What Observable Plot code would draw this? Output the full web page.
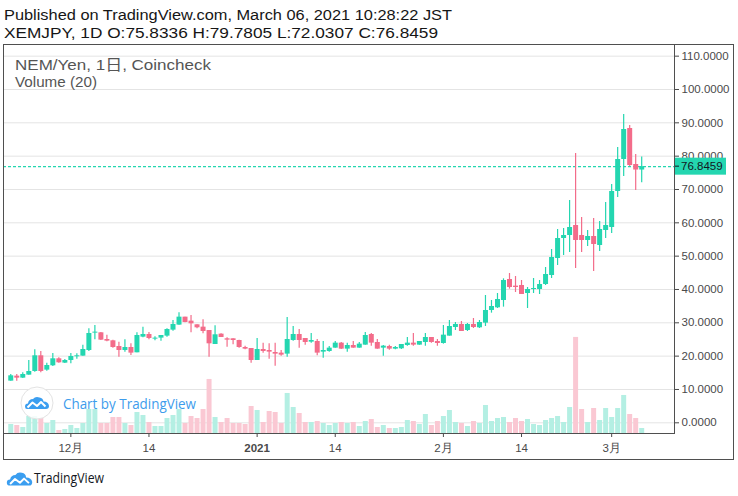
<!DOCTYPE html>
<html><head><meta charset="utf-8">
<script src="https://cdn.jsdelivr.net/npm/d3@7"></script>
<script src="https://cdn.jsdelivr.net/npm/@observablehq/plot@0.6"></script>
<style>
body{margin:0;background:#fff;}
#wrap{position:relative;width:738px;height:496px;overflow:hidden;}
#chart{position:absolute;left:0;top:0;}
#overlay{position:absolute;left:0;top:0;}
</style></head>
<body>
<div id="wrap">
<div id="chart"></div>
<svg id="overlay" width="738" height="496" viewBox="0 0 738 496">
  <g font-family="Liberation Sans, Arial, Noto Sans CJK JP, sans-serif" fill="#161616" font-size="15.5">
    <text x="4" y="20" textLength="448" lengthAdjust="spacingAndGlyphs">Published on TradingView.com, March 06, 2021 10:28:22 JST</text>
    <text x="4" y="37.5" textLength="434" lengthAdjust="spacingAndGlyphs">XEMJPY, 1D O:75.8336 H:79.7805 L:72.0307 C:76.8459</text>
  </g>
  <g font-family="Liberation Sans, Arial, Noto Sans CJK JP, sans-serif" fill="#555" font-size="15">
    <text x="15" y="69.5" textLength="196" lengthAdjust="spacingAndGlyphs">NEM/Yen, 1日, Coincheck</text>
    <text x="15" y="86.5" textLength="82" lengthAdjust="spacingAndGlyphs">Volume (20)</text>
  </g>
  <g transform="translate(20,386)">
    <circle cx="17" cy="17" r="16" fill="#fff" fill-opacity="0.85" stroke="#e3e3e3" stroke-width="1"/>
    <path d="M7 23 Q5 23 5 20.5 Q5 17.5 8 17.5 Q8.5 13 13 13 Q15.5 10 19.5 11.5 Q23 12 23.5 15.5 Q28.5 15.5 29 20 Q29 23 26 23 Z" fill="#3b9ef0"/>
    <path d="M7.5 21.5 L12.5 16.5 L17 20 L21 16 L25.5 20.5" fill="none" stroke="#fff" stroke-width="2" stroke-linejoin="round"/>
  </g>
  <text x="63" y="408.5" font-family="Open Sans, Noto Sans, sans-serif" font-size="15" fill="#3d9cec" textLength="133" lengthAdjust="spacingAndGlyphs">Chart by TradingView</text>
  <g transform="translate(6,470) scale(0.82)">
    <path d="M5 19 Q1 19 1 15.5 Q1 11.5 5 11.5 Q6 6 11.5 6 Q14.5 2 19.5 3.5 Q24 4.5 24.5 9 Q31 9 32 14.5 Q32 19 28 19 Z" fill="#3b9ef0"/>
    <path d="M5 17 L11 11 L17 15.5 L22 10.5 L28 16" fill="none" stroke="#fff" stroke-width="2.4" stroke-linejoin="round"/>
  </g>
  <text x="34" y="483" font-family="Open Sans, Noto Sans, sans-serif" font-size="14" fill="#131722" textLength="70" lengthAdjust="spacingAndGlyphs">TradingView</text>
</svg>
</div>
<script>
// ---- data (XEM/JPY daily, 2020-11-21 .. 2021-03-06) ----
const firstDay = "2020-11-21";
const lastDay = "2021-03-06";
const open = [12.5,14.0,13.4,14.3,15.4,20.1,15.8,17.1,19.2,17.9,18.7,19.8,20.0,21.7,26.9,27.0,25.0,24.6,22.9,21.7,22.6,21.0,25.7,26.5,25.1,25.4,26.0,27.8,29.3,31.7,30.5,29.4,28.7,27.7,23.5,26.6,25.2,25.2,24.7,22.6,22.3,18.7,22.0,21.7,21.1,20.9,20.6,24.7,26.5,25.3,24.2,24.4,21.2,21.4,22.4,23.9,22.1,23.2,22.4,23.3,26.5,24.1,22.4,22.9,22.1,22.2,23.2,23.9,23.3,24.1,25.6,24.4,23.8,26.0,28.6,29.5,27.7,29.5,28.5,29.9,33.7,34.5,36.7,43.0,41.0,41.2,38.8,40.0,40.0,41.5,44.2,49.3,55.3,56.2,59.2,56.2,54.7,55.9,53.2,57.7,58.6,69.4,79.0,88.3,77.5,75.8336];
const high = [14.5,14.5,15.0,18.7,21.9,21.4,17.9,20.8,19.5,19.0,20.8,20.7,23.3,28.2,29.2,27.1,26.3,24.8,24.2,24.9,23.7,27.0,28.7,27.1,25.8,26.2,28.2,30.7,33.0,31.7,32.2,29.4,30.9,27.7,29.1,26.7,25.5,25.2,24.8,23.0,22.3,25.3,23.9,23.7,23.9,21.7,31.6,28.9,28.0,25.3,26.8,25.0,24.4,22.9,24.4,24.1,23.9,24.4,24.1,27.1,26.8,25.0,23.2,23.3,22.9,23.5,25.6,26.8,24.4,26.8,25.6,25.0,29.2,30.7,30.1,30.4,29.8,31.3,30.7,38.2,36.7,38.8,43.2,44.8,43.9,42.7,40.6,43.3,42.7,46.6,52.0,58.0,58.3,66.7,80.8,61.6,57.7,61.3,60.4,66.1,71.5,82.6,92.5,89.2,80.5,79.7805];
const low = [12.5,12.5,13.3,14.3,15.2,15.0,15.5,16.9,17.9,17.8,17.7,19.1,20.0,21.4,24.9,24.7,24.3,22.4,19.7,21.2,20.2,21.0,25.5,24.9,24.6,24.5,25.7,27.5,29.3,30.0,27.0,28.2,26.7,19.7,23.5,25.6,22.7,23.4,22.4,21.9,17.9,18.7,20.9,19.1,17.0,20.0,19.7,24.5,22.4,23.3,23.9,20.1,19.4,21.2,22.4,22.0,21.2,22.4,22.4,23.3,23.0,22.1,20.0,21.8,21.9,22.0,23.0,23.0,23.3,23.0,23.9,23.0,23.6,26.0,27.7,27.4,27.4,28.3,28.3,28.9,32.9,34.3,34.7,40.1,39.1,38.5,34.3,38.8,38.5,41.2,43.3,47.2,50.2,51.1,46.3,51.1,52.9,45.4,51.4,55.3,56.8,67.6,73.9,76.9,69.7,72.0307];
const close = [14.1,13.4,14.5,15.4,20.1,15.4,17.2,19.2,18.0,18.7,19.9,20.0,22.0,26.8,27.1,24.8,24.5,22.6,21.7,22.6,20.9,26.2,26.5,25.3,25.3,26.2,28.0,29.5,31.7,30.1,29.7,28.5,27.4,23.7,26.4,25.6,24.8,24.7,22.6,22.1,18.7,22.0,21.4,21.2,20.6,20.3,25.0,26.5,24.7,24.1,24.7,20.9,21.7,22.4,23.9,22.1,23.2,22.4,23.6,26.2,23.9,22.1,23.0,22.1,22.6,23.5,23.9,23.3,24.4,25.6,24.1,23.8,26.3,28.9,29.5,27.4,29.5,28.6,30.1,33.7,34.9,37.0,42.7,40.6,40.6,38.5,40.0,40.3,41.5,44.5,49.6,55.3,56.2,58.6,54.7,54.7,55.9,53.5,58.0,59.2,69.4,79.0,88.0,77.2,75.8336,76.8459];
// volume in relative units (the original panel shows no volume scale)
const volume = [9,8,6,17,17,15,10,13,3,4,8,5,10,24,24,10,10,16,16,10,8,21,18,11,7,7,15,18,24,10,17,15,24,54,16,11,15,10,10,9,27,23,11,22,21,10,40,26,20,11,11,12,10,8,10,11,10,11,7,12,14,6,8,5,5,6,13,12,9,19,8,12,17,23,11,10,7,12,10,28,12,15,16,11,15,12,14,9,8,13,15,17,11,26,96,24,11,25,13,25,16,25,38,19,15,5];
const yTicks = [0,10,20,30,40,50,60,70,80,90,100,110];
const tickDates = ["2020-12-01","2020-12-14","2021-01-01","2021-01-14","2021-02-01","2021-02-14","2021-03-01"];
const tickLabels = ["12月","14","2021","14","2月","14","3月"];
const boldTick = "2021-01-01";

// ---- styles / layout ----
const upColor = "#24d6b0", downColor = "#f36c8a";
const volUp = "#b4efe3", volDown = "#fac8d3";
const W = 738, H = 496;
const margin = {top: 44, right: 64, bottom: 63, left: 3};
const yDomain = [-3.21, 113.5];
const volumeTopShare = 0.247; // tallest volume bar height as share of the plot height

const dates = d3.utcDay.range(new Date(firstDay), d3.utcDay.offset(new Date(lastDay), 1));
const data = dates.map((date, i) => ({date, open: open[i], high: high[i], low: low[i], close: close[i], volume: volume[i], up: close[i] >= open[i]}));
const lastClose = close[close.length - 1];
const volFactor = (yDomain[1] - yDomain[0]) * volumeTopShare / d3.max(volume);
const volBase = yDomain[0];
const xDomain = [d3.utcHour.offset(dates[0], -29), d3.utcHour.offset(dates[dates.length - 1], 131)];
const tickDateObjs = tickDates.map(d => new Date(d));
const labelOf = new Map(tickDates.map((d, i) => [+new Date(d), tickLabels[i]]));

const ups = data.filter(d => d.up), downs = data.filter(d => !d.up);
const bodyLo = d => Math.min(d.open, d.close);
const bodyHi = d => Math.max(d.open, d.close, Math.min(d.open, d.close) + 0.3);

function chrome(index, scales, values, dims) {
  const g = d3.create("svg:g");
  const x0 = dims.marginLeft, x1 = dims.width - dims.marginRight, y0 = dims.marginTop, y1 = dims.height - dims.marginBottom;
  const c = "#4f4f4f";
  g.append("rect").attr("x", x0 + 0.5).attr("y", y0 + 0.5).attr("width", 733 - x0).attr("height", 459 - y0).attr("fill", "none").attr("stroke", c);
  g.append("line").attr("x1", x1 + 0.5).attr("x2", x1 + 0.5).attr("y1", y0).attr("y2", y1 + 1).attr("stroke", c);
  g.append("line").attr("x1", x0).attr("x2", x1 + 1).attr("y1", y1 + 0.5).attr("y2", y1 + 0.5).attr("stroke", c);
  // last price label
  const yp = scales.y(lastClose);
  g.append("rect").attr("x", x1 + 1).attr("y", yp - 8.5).attr("width", 51).attr("height", 17).attr("fill", upColor);
  g.append("line").attr("x1", x1 + 1).attr("x2", x1 + 5).attr("y1", yp).attr("y2", yp).attr("stroke", "#131722");
  g.append("text").attr("x", x1 + 7).attr("y", yp).attr("dy", "0.35em").attr("fill", "#131722").attr("text-anchor", "start")
    .attr("font-size", 11.5).attr("font-family", "Liberation Sans, Arial, sans-serif").text(lastClose.toFixed(4));
  return g.node();
}

const plot = Plot.plot({
  width: W, height: H,
  marginTop: margin.top, marginRight: margin.right, marginBottom: margin.bottom, marginLeft: margin.left,
  style: {fontFamily: "Liberation Sans, Arial, sans-serif", background: "transparent", overflow: "visible"},
  x: {type: "utc", domain: xDomain},
  y: {domain: yDomain},
  marks: [
    Plot.gridY(yTicks, {stroke: "#e4e4e4", strokeOpacity: 1}),
    Plot.ruleX(ups, {x: "date", y1: volBase, y2: d => volBase + d.volume * volFactor, stroke: volUp, strokeWidth: 5}),
    Plot.ruleX(downs, {x: "date", y1: volBase, y2: d => volBase + d.volume * volFactor, stroke: volDown, strokeWidth: 5}),
    Plot.ruleY([lastClose], {stroke: upColor, strokeWidth: 1.3, strokeDasharray: "3,2"}),
    Plot.ruleX(ups, {x: "date", y1: "low", y2: "high", stroke: upColor, strokeWidth: 1.2}),
    Plot.ruleX(downs, {x: "date", y1: "low", y2: "high", stroke: downColor, strokeWidth: 1.2}),
    Plot.ruleX(ups, {x: "date", y1: bodyLo, y2: bodyHi, stroke: upColor, strokeWidth: 5}),
    Plot.ruleX(downs, {x: "date", y1: bodyLo, y2: bodyHi, stroke: downColor, strokeWidth: 5}),
    Plot.axisY(yTicks, {anchor: "right", label: null, tickSize: 4, tickPadding: 3, fontSize: 11.5, color: "#4a4a4a", tickFormat: d => d.toFixed(4)}),
    Plot.axisX(tickDateObjs.filter(d => +d !== +new Date(boldTick)), {anchor: "bottom", label: null, tickSize: 4, tickPadding: 6, fontSize: 11.5, color: "#4a4a4a", tickFormat: d => labelOf.get(+d)}),
    Plot.axisX([new Date(boldTick)], {anchor: "bottom", label: null, tickSize: 4, tickPadding: 6, fontSize: 11.5, fontWeight: "bold", color: "#4a4a4a", tickFormat: d => labelOf.get(+d)}),
    chrome
  ]
});
document.getElementById("chart").appendChild(plot);
</script>
</body></html>
